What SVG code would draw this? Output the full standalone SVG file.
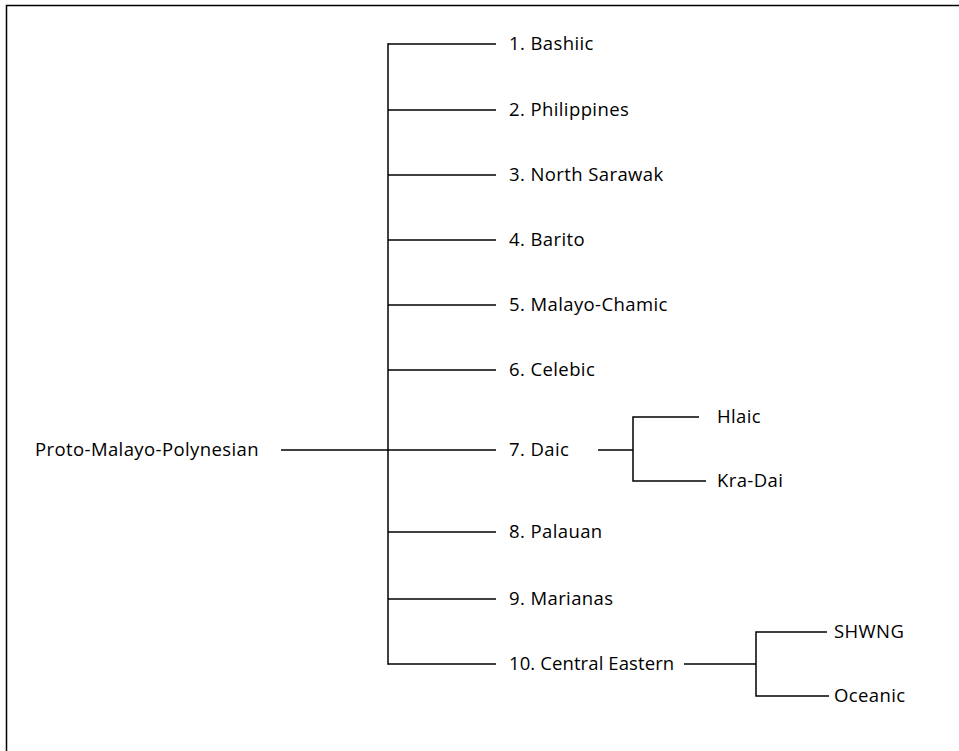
<svg xmlns="http://www.w3.org/2000/svg" width="959" height="751" viewBox="0 0 959 751">
<style>
  .ln { stroke: #000; stroke-width: 1.5; fill: none; }
  .lbl { font-family: "Open Sans", "Liberation Sans", sans-serif; font-size: 18.5px; fill: #000; letter-spacing: 0.4px; }
  .tight { letter-spacing: 0.1px; }
</style>
<rect width="959" height="751" fill="#fff"/>
<polyline class="ln" points="6.5,751 6.5,5.5 959,5.5"/>
<g id="connectors">
  <line class="ln" x1="281" y1="450" x2="388" y2="450"/>
  <line class="ln" x1="388" y1="43.3" x2="388" y2="664.7"/>
  <line class="ln" x1="388" y1="44" x2="496" y2="44"/>
  <line class="ln" x1="388" y1="110" x2="496" y2="110"/>
  <line class="ln" x1="388" y1="175" x2="496" y2="175"/>
  <line class="ln" x1="388" y1="240" x2="496" y2="240"/>
  <line class="ln" x1="388" y1="305" x2="496" y2="305"/>
  <line class="ln" x1="388" y1="370" x2="496" y2="370"/>
  <line class="ln" x1="388" y1="450" x2="496" y2="450"/>
  <line class="ln" x1="388" y1="532" x2="496" y2="532"/>
  <line class="ln" x1="388" y1="599" x2="496" y2="599"/>
  <line class="ln" x1="388" y1="664" x2="496" y2="664"/>
  <line class="ln" x1="598" y1="450" x2="633" y2="450"/>
  <polyline class="ln" points="699,417 633,417 633,481 706,481"/>
  <line class="ln" x1="684" y1="664" x2="756" y2="664"/>
  <polyline class="ln" points="827,632 756,632 756,696 829,696"/>
</g>
<g id="root"><text class="lbl" x="35" y="456">Proto-Malayo-Polynesian</text></g>
<g id="n1"><text class="lbl" x="509" y="50">1. Bashiic</text></g>
<g id="n2"><text class="lbl" x="509" y="116">2. Philippines</text></g>
<g id="n3"><text class="lbl" x="509" y="181">3. North Sarawak</text></g>
<g id="n4"><text class="lbl" x="509" y="246">4. Barito</text></g>
<g id="n5"><text class="lbl" x="509" y="311">5. Malayo-Chamic</text></g>
<g id="n6"><text class="lbl" x="509" y="376">6. Celebic</text></g>
<g id="n7"><text class="lbl" x="509" y="456">7. Daic</text></g>
<g id="n7a"><text class="lbl" x="717" y="423">Hlaic</text></g>
<g id="n7b"><text class="lbl" x="717" y="487">Kra-Dai</text></g>
<g id="n8"><text class="lbl" x="509" y="538">8. Palauan</text></g>
<g id="n9"><text class="lbl" x="509" y="605">9. Marianas</text></g>
<g id="n10"><text class="lbl tight" x="509" y="670">10. Central Eastern</text></g>
<g id="n10a"><text class="lbl" x="834" y="638">SHWNG</text></g>
<g id="n10b"><text class="lbl" x="834" y="702">Oceanic</text></g>
</svg>
